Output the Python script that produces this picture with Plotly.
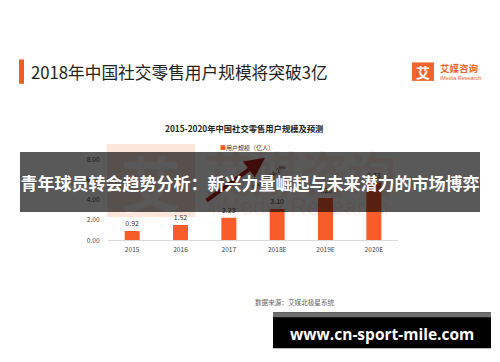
import plotly.graph_objects as go

# ---- data ----
categories = ["2015", "2016", "2017", "2018E", "2019E", "2020E"]
users = [0.92, 1.52, 2.23, 3.10, 4.20, 5.73]
y_ticks = [0, 2, 4, 6, 8]
y_tick_labels = ["0.00", "2.00", "4.00", "6.00", "8.00"]

W, H = 500, 362
FONT = "Noto Sans CJK SC"
ORANGE = "#F95C2B"


def X(px):
    return px / W


def Y(py):
    return 1 - py / H


fig = go.Figure()
fig.add_trace(go.Bar(
    x=categories, y=users,
    marker=dict(color=ORANGE, line=dict(width=0)),
    text=[f"{v:.2f}" for v in users],
    textposition="outside",
    textfont=dict(size=7, color="#333333", family=FONT),
    cliponaxis=False,
    showlegend=False,
))

shapes = []
annotations = []


def note(text, px, py, size, color, anchor="center", weight=400, family=FONT, **kw):
    annotations.append(dict(text=text, x=X(px), y=Y(py), xref="paper", yref="paper",
                            xanchor=anchor, yanchor="middle", showarrow=False,
                            font=dict(size=size, color=color, family=family, weight=weight), **kw))


# title bar + title
shapes.append(dict(type="rect", xref="paper", yref="paper", x0=X(19), x1=X(24), y0=Y(80), y1=Y(55),
                   fillcolor="#F05A28", line=dict(width=0), layer="above"))
note("2018年中国社交零售用户规模将突破3亿", 29, 68, 16.7, "#222222", anchor="left")

# logo
shapes.append(dict(type="rect", xref="paper", yref="paper", x0=X(412), x1=X(434), y0=Y(77), y1=Y(58),
                   fillcolor="#F0642E", line=dict(width=0), layer="above"))
note("艾", 423, 67.5, 14, "white", weight=700)
note("艾媒咨询", 438, 64, 9.5, "#F0642E", anchor="left", weight=700)
note("iMedia Research", 438, 74.5, 5.5, "#F0642E", anchor="left", family="Liberation Sans")

# chart title & legend
note("2015-2020年中国社交零售用户规模及预测", 244, 125, 8.3, "#222222", weight=700)
note(f"<span style='color:{ORANGE}'>■</span>用户规模（亿人）", 218, 146, 6, "#333333", anchor="left")

# watermark
shapes.append(dict(type="rect", xref="paper", yref="paper", x0=X(107), x1=X(195), y0=Y(217), y1=Y(142),
                   fillcolor="#FCE6DC", line=dict(width=0), layer="below"))
note("艾", 151, 180, 60, "rgba(255,255,255,0.8)", weight=700)
note("艾媒咨询", 300, 170, 48, "rgba(249,92,43,0.10)", weight=700)
note("iiMedia Research", 300, 207, 23, "rgba(249,92,43,0.10)", family="Liberation Sans")

# growth arrow
annotations.append(dict(text="", x=X(265), y=Y(156), ax=-60, ay=44, xref="paper", yref="paper",
                        axref="pixel", ayref="pixel", showarrow=True, arrowhead=2, arrowsize=1,
                        arrowwidth=4, arrowcolor="#B3261A"))
note("CAGR=44.2%", 268, 176, 6.5, "#333333", textangle=-35)

# source
note("数据来源：艾媒北极星系统", 253, 304, 6.6, "#666666", anchor="left")

# overlay banner
note("青年球员转会趋势分析：新兴力量崛起与未来潜力的市场博弈", 250, 181, 17, "white", weight=700,
     width=460, height=60, bgcolor="rgba(0,0,0,0.65)", borderpad=0, borderwidth=0)

# bottom url box
shapes.append(dict(type="rect", xref="paper", yref="paper", x0=X(273), x1=X(491), y0=Y(352), y1=Y(315),
                   fillcolor="black", line=dict(width=0), layer="above"))
shapes.append(dict(type="rect", xref="paper", yref="paper", x0=X(273), x1=X(491), y0=Y(320), y1=Y(315),
                   fillcolor="#6E6E6E", line=dict(width=0), layer="above"))
note("www.cn-sport-mile.com", 382, 337, 15.5, "white", weight=700, family="Open Sans")

fig.update_layout(
    width=W, height=H,
    margin=dict(l=0, r=0, t=0, b=0),
    paper_bgcolor="white", plot_bgcolor="rgba(0,0,0,0)",
    bargap=0.69,
    shapes=shapes, annotations=annotations,
    xaxis=dict(domain=[X(108), X(398)], showline=True, linecolor="#D9D9D9", linewidth=1,
               showgrid=False, zeroline=False, ticks="outside", ticklen=3, tickcolor="rgba(0,0,0,0)",
               tickfont=dict(size=6.6, color="#444444", family=FONT), fixedrange=True),
    yaxis=dict(domain=[Y(241), Y(158)], range=[0, 8], showline=False, showgrid=False, zeroline=False,
               tickvals=y_ticks, ticktext=y_tick_labels, ticks="outside", ticklen=6,
               tickcolor="rgba(0,0,0,0)", tickfont=dict(size=6.6, color="#444444", family=FONT),
               fixedrange=True),
)

fig.write_html("out.html", config={"displayModeBar": False, "staticPlot": True},
               post_script="document.body.style.margin='0px';")
